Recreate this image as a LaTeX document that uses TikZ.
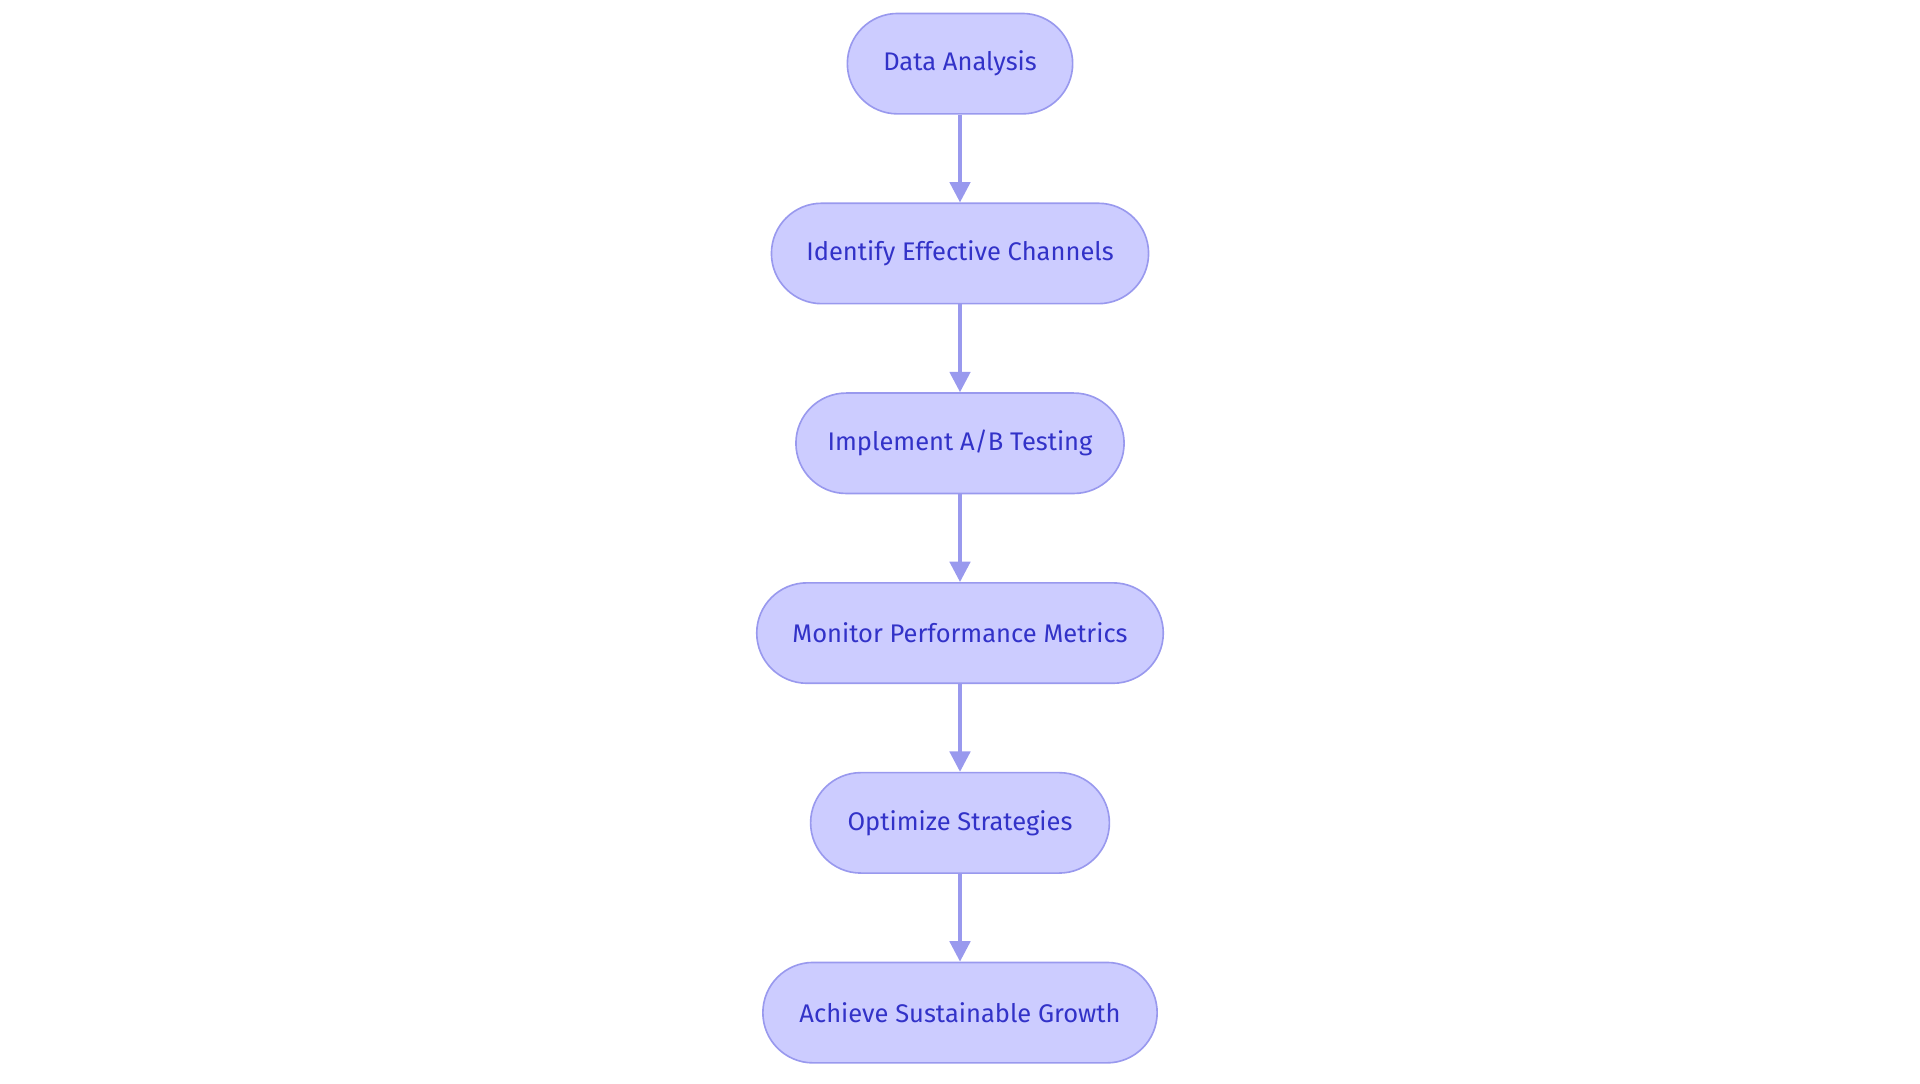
\documentclass[tikz,border=0pt]{standalone}
\usepackage{fontspec}
\setmainfont{Fira Sans}
\usetikzlibrary{arrows.meta}
\definecolor{nfill}{HTML}{CCCCFF}
\definecolor{nline}{HTML}{9999EE}
\definecolor{ntext}{HTML}{3232C8}
\begin{document}
\begin{tikzpicture}[x=0.6pt,y=-0.6pt,
  box/.style={draw=nline,line width=0.8pt,fill=nfill,rounded corners=24.6pt,minimum height=49.2pt,text=ntext,font=\fontsize{12.5}{14}\selectfont,inner sep=0pt},
  arr/.style={draw=nline,line width=1.8pt,-{Triangle[length=10pt,width=10pt]}}]
\useasboundingbox (0,0) rectangle (1568,884.5);
\node[box,minimum width=110.4pt] (a) at (784,52) {Data Analysis};
\node[box,minimum width=184.8pt] (b) at (784,207) {Identify Effective Channels};
\node[box,minimum width=160.8pt] (c) at (784,362) {Implement A/B Testing};
\node[box,minimum width=199.2pt] (d) at (784,517) {Monitor Performance Metrics};
\node[box,minimum width=146.4pt] (e) at (784,672) {Optimize Strategies};
\node[box,minimum width=193.2pt] (f) at (784,827) {Achieve Sustainable Growth};
\draw[arr] (a) -- (b);
\draw[arr] (b) -- (c);
\draw[arr] (c) -- (d);
\draw[arr] (d) -- (e);
\draw[arr] (e) -- (f);
\end{tikzpicture}
\end{document}
